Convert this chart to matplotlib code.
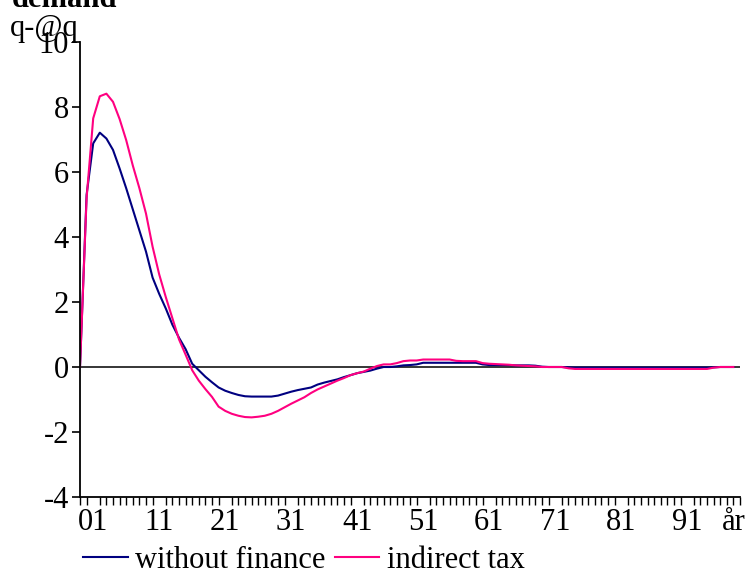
import matplotlib
matplotlib.use("Agg")
import matplotlib.pyplot as plt
from matplotlib.transforms import blended_transform_factory

plt.rcParams['font.family'] = ['Liberation Serif', 'DejaVu Serif']

# Category axis: period index 0..100, labelled every tenth period
n_categories = 101
tick_positions = [2, 12, 22, 32, 42, 52, 62, 72, 82, 92]
tick_labels = ["01", "11", "21", "31", "41", "51", "61", "71", "81", "91"]

# Demand response, q-@q
without_finance = [
    0.0, 5.3, 6.88, 7.21, 7.03, 6.68, 6.11, 5.5, 4.85, 4.2,
    3.55, 2.75, 2.25, 1.8, 1.3, 0.9, 0.55, 0.1, -0.1, -0.3,
    -0.47, -0.63, -0.73, -0.8, -0.86, -0.9, -0.91, -0.91, -0.91, -0.91,
    -0.88, -0.82, -0.76, -0.71, -0.67, -0.63, -0.54, -0.48, -0.43, -0.38,
    -0.31, -0.25, -0.19, -0.15, -0.11, -0.05, 0.0, 0.0, 0.02, 0.05,
    0.06, 0.08, 0.13, 0.13, 0.13, 0.13, 0.13, 0.13, 0.13, 0.13,
    0.13, 0.08, 0.06, 0.06, 0.06, 0.06, 0.05, 0.05, 0.05, 0.04,
    0.01, 0.0, 0.0, 0.0, -0.01, -0.02, -0.02, -0.02, -0.02, -0.02,
    -0.02, -0.02, -0.02, -0.02, -0.02, -0.02, -0.02, -0.02, -0.02, -0.02,
    -0.02, -0.02, -0.02, -0.02, -0.02, -0.02, -0.01, 0.0, 0.0, 0.0,
]
indirect_tax = [
    0.0, 5.2, 7.65, 8.33, 8.41, 8.16, 7.63, 6.98, 6.2, 5.5,
    4.72, 3.7, 2.85, 2.15, 1.5, 0.85, 0.38, -0.1, -0.42, -0.68,
    -0.92, -1.22, -1.35, -1.44, -1.5, -1.54, -1.55, -1.53, -1.5, -1.44,
    -1.35, -1.24, -1.13, -1.03, -0.93, -0.8, -0.69, -0.6, -0.51, -0.42,
    -0.34, -0.25, -0.19, -0.14, -0.05, 0.03, 0.08, 0.08, 0.12, 0.18,
    0.2, 0.2, 0.23, 0.23, 0.23, 0.23, 0.23, 0.19, 0.18, 0.18,
    0.18, 0.12, 0.1, 0.09, 0.08, 0.07, 0.05, 0.04, 0.03, 0.02,
    0.0, 0.0, 0.0, 0.0, -0.04, -0.06, -0.06, -0.06, -0.06, -0.06,
    -0.06, -0.06, -0.06, -0.06, -0.06, -0.06, -0.06, -0.06, -0.06, -0.06,
    -0.06, -0.06, -0.06, -0.06, -0.06, -0.06, -0.02, 0.0, 0.0, 0.0,
]

navy = "#000080"
pink = "#FF0080"
fs = 22

fig = plt.figure(figsize=(7.55, 5.76), dpi=100)
ax = fig.add_axes([80 / 755, 1 - 497 / 576, (740 - 80) / 755, (497 - 42) / 576])

x = list(range(len(without_finance)))
ax.plot(x, without_finance, color=navy, lw=1.5, label="without finance")
ax.plot(x, indirect_tax, color=pink, lw=1.5, label="indirect tax")
ax.axhline(0, color="black", lw=1.1, zorder=1)

ax.set_xlim(0, n_categories - 1)
ax.set_ylim(-4, 10)
ax.set_yticks(range(-4, 11, 2))
ax.set_yticklabels([str(v) for v in range(-4, 11, 2)], fontsize=fs)

ax.set_xticks(range(n_categories), minor=True)
ax.set_xticks(tick_positions)
ax.set_xticklabels(tick_labels, fontsize=fs)
ax.tick_params(axis="x", which="major", length=0, pad=8)
ax.tick_params(axis="x", which="minor", length=6, width=1, direction="out")
ax.tick_params(axis="y", length=6, width=1.2, direction="out", pad=2)

for side in ("top", "right"):
    ax.spines[side].set_visible(False)
for side in ("left", "bottom"):
    ax.spines[side].set_linewidth(1.3)

# Axis title at the end of the category row
trans = blended_transform_factory(ax.transData, ax.transAxes)
ax.annotate("år", xy=(99.0, 0), xycoords=trans, xytext=(0, -8),
            textcoords="offset points", fontsize=fs, ha="center", va="top",
            annotation_clip=False)

fig.text(12 / 755, 1 - 7 / 576, "demand", fontsize=fs, fontweight="bold",
         ha="left", va="baseline")
fig.text(10 / 755, 1 - 36 / 576, "q-@q", fontsize=fs, ha="left", va="baseline")

fig.legend(loc="center", bbox_to_anchor=(304 / 755, 1 - 560 / 576), ncol=2,
           frameon=False, fontsize=fs, handlelength=1.45, handletextpad=0.25,
           columnspacing=0.3, borderpad=0, borderaxespad=0)

fig.savefig("out.png", dpi=100)
